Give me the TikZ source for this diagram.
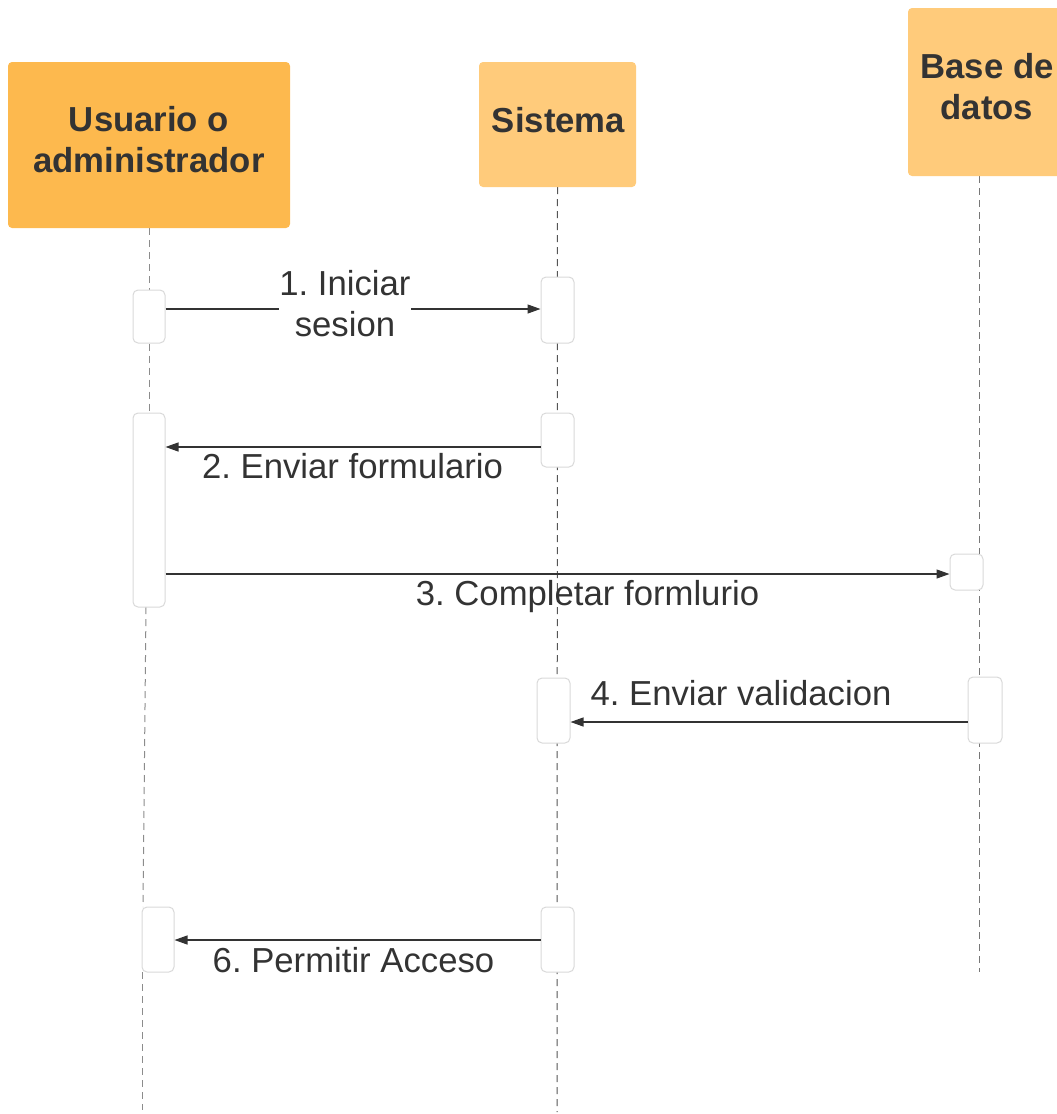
\documentclass[tikz,border=0pt]{standalone}
\usepackage{fontspec}
\setmainfont{Liberation Sans}
\frenchspacing
\usetikzlibrary{arrows.meta,backgrounds}

\definecolor{ink}{HTML}{333333}
\definecolor{usrfill}{HTML}{FDB94E}
\definecolor{hdrfill}{HTML}{FFCB7B}
\definecolor{actline}{HTML}{D9D9D9}
\definecolor{lifeA}{HTML}{8C8C8C}
\definecolor{lifeB}{HTML}{555555}
\definecolor{lifeC}{HTML}{777777}

\begin{document}
\begin{tikzpicture}[x=1pt,y=-1pt,
  hdr/.style={rectangle, rounded corners=4pt, draw=none, inner sep=0pt},
  hdrtext/.style={font=\fontsize{34.7}{41}\selectfont\bfseries, text=ink, align=center, inner sep=0pt},
  lbl/.style={font=\fontsize{34.7}{41}\selectfont, text=ink, align=center, inner sep=0pt},
  act/.style={rectangle, rounded corners=5pt, draw=actline, line width=1pt, fill=white, inner sep=0pt},
  life/.style={dashed, dash pattern=on 7pt off 5pt, line width=1pt},
  msg/.style={draw=ink, line width=1.3pt, -{Triangle[length=13pt,width=9pt]}}
]
\useasboundingbox (0,0) rectangle (1057,1114);

% participant headers
\node[hdr, fill=usrfill, minimum width=282pt, minimum height=166pt] (usr) at (149,145) {};
\node[hdrtext] (usrT) at (149,140) {Usuario o\\administrador};
\node[hdr, fill=hdrfill, minimum width=157pt, minimum height=125pt] (sys) at (557.5,124.5) {};
\node[hdrtext, anchor=base] (sysT) at (558.5,132) {Sistema};
\node[hdr, fill=hdrfill, minimum width=158pt, minimum height=168pt] (db) at (987,92) {};
\node[hdrtext] (dbT) at (987,86.5) {Base de\\datos};

% activation bars
\node[act, minimum width=32pt, minimum height=53pt]  (a1) at (149,316.5) {};
\node[act, minimum width=32pt, minimum height=194pt] (a2) at (149,510) {};
\node[act, minimum width=32pt, minimum height=65pt]  (a6) at (158,939.5) {};
\node[act, minimum width=33pt, minimum height=66pt]  (s1) at (557.5,310) {};
\node[act, minimum width=33pt, minimum height=54pt]  (s2) at (557.5,440) {};
\node[act, minimum width=33pt, minimum height=65pt]  (s4) at (553.5,710.5) {};
\node[act, minimum width=33pt, minimum height=65pt]  (s6) at (557.5,939.5) {};
\node[act, minimum width=33pt, minimum height=36pt]  (d3) at (966.5,572) {};
\node[act, minimum width=34pt, minimum height=66pt]  (d4) at (985,710) {};

% lifeline end points
\coordinate (u3top) at (146,607);
\coordinate (u3bot) at (143,907);
\coordinate (u4top) at (142,972);
\coordinate (uEnd) at (142,1110);
\coordinate (sEnd) at (557,1112);
\coordinate (dTop) at (979,176);
\coordinate (dEnd) at (979,972);

% message levels
\coordinate (m1) at (0,309);
\coordinate (m2) at (0,447);
\coordinate (m3) at (0,574);
\coordinate (m4) at (0,722);
\coordinate (m6) at (0,940);

% lifelines, kept behind the bars
\begin{pgfonlayer}{background}
\draw[life, draw=lifeA] (usr.south) -- (a1.north);
\draw[life, draw=lifeA] (a1.south) -- (a2.north);
\draw[life, draw=lifeA] (u3top) -- (u3bot);
\draw[life, draw=lifeA] (u4top) -- (uEnd);
\draw[life, draw=lifeB] (sys.south) -- (sEnd);
\draw[life, draw=lifeC] (dTop) -- (dEnd);
\end{pgfonlayer}

% messages
\draw[msg] (a1.east |- m1) -- (s1.west |- m1);
\node[lbl, fill=white] (l1) at (345,303.5) {1. Iniciar\\sesion};

\draw[msg] (s2.west |- m2) -- (a2.east |- m2);
\node[lbl, anchor=base] (l2) at (352.5,478) {2. Enviar formulario};

\draw[msg] (a2.east |- m3) -- (d3.west |- m3);
\node[lbl, anchor=base] (l3) at (587.5,605) {3. Completar formlurio};

\draw[msg] (d4.west |- m4) -- (s4.east |- m4);
\node[lbl, anchor=base] (l4) at (741,705) {4. Enviar validacion};

\draw[msg] (s6.west |- m6) -- (a6.east |- m6);
\node[lbl, anchor=base] (l6) at (353.5,972) {6. Permitir Acceso};
\end{tikzpicture}
\end{document}
